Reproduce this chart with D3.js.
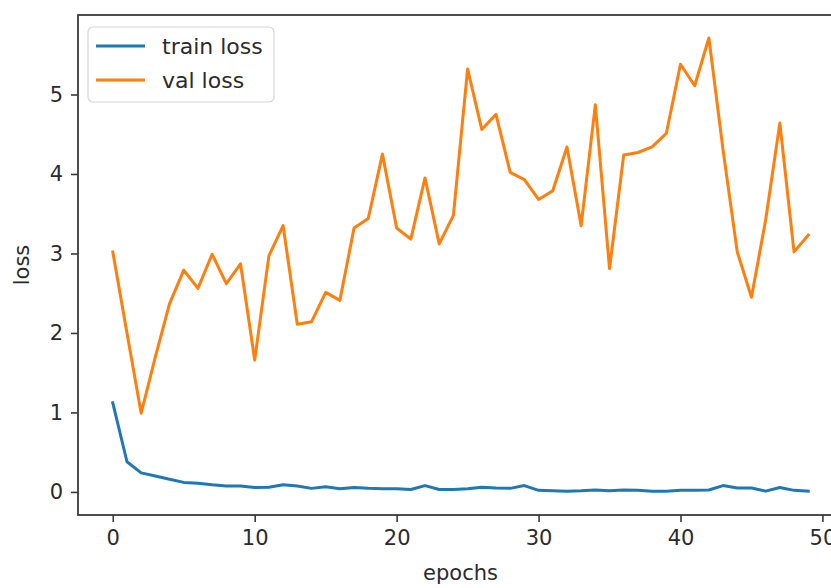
<!DOCTYPE html>
<html>
<head>
<meta charset="utf-8">
<script src="https://cdn.jsdelivr.net/npm/d3@7"></script>
<style>
  html, body { margin: 0; padding: 0; background: #fff; overflow: hidden; }
  svg { display: block; }
  text { font-family: "DejaVu Sans", sans-serif; fill: #2b2b2b; }
</style>
</head>
<body>
<svg id="chart" width="831" height="588"></svg>
<script>
// Loss per epoch
const epochs = d3.range(50);
const trainLoss = [
  1.12, 0.38, 0.24, 0.20, 0.16, 0.12, 0.11, 0.09, 0.075, 0.075,
  0.055, 0.06, 0.09, 0.075, 0.045, 0.065, 0.04, 0.055, 0.045, 0.04,
  0.04, 0.03, 0.08, 0.03, 0.03, 0.04, 0.06, 0.05, 0.045, 0.08,
  0.02, 0.015, 0.01, 0.015, 0.025, 0.015, 0.025, 0.02, 0.01, 0.01,
  0.02, 0.02, 0.025, 0.08, 0.05, 0.05, 0.01, 0.055, 0.02, 0.01
];
const valLoss = [
  3.02, 2.0, 0.99, 1.7, 2.37, 2.79, 2.56, 2.99, 2.62, 2.87,
  1.66, 2.97, 3.35, 2.11, 2.14, 2.51, 2.41, 3.32, 3.44, 4.25,
  3.32, 3.18, 3.95, 3.12, 3.48, 5.32, 4.56, 4.75, 4.02, 3.93,
  3.68, 3.79, 4.34, 3.35, 4.87, 2.81, 4.24, 4.27, 4.34, 4.51,
  5.38, 5.11, 5.71, 4.3, 3.02, 2.45, 3.42, 4.64, 3.02, 3.23
];
const xTicks = [0, 10, 20, 30, 40, 50];
const yTicks = [0, 1, 2, 3, 4, 5];
const seriesNames = ["train loss", "val loss"];
const seriesColors = ["#1f77b4", "#ff7f0e"];

const svg = d3.select("#chart");
const plot = { left: 78, top: 15, right: 843, bottom: 515 };

const x = d3.scaleLinear().domain([-2.45, 51.45]).range([plot.left, plot.right]);
const y = d3.scaleLinear().domain([-0.29, 6.0]).range([plot.bottom, plot.top]);

// Series lines
const line = d3.line().x((d, i) => x(epochs[i])).y(d => y(d));
[trainLoss, valLoss].forEach((s, k) => {
  svg.append("path")
    .datum(s)
    .attr("d", line)
    .attr("fill", "none")
    .attr("stroke", seriesColors[k])
    .attr("stroke-width", 3)
    .attr("stroke-linejoin", "round")
    .attr("stroke-linecap", "square");
});

// Frame
svg.append("rect")
  .attr("x", plot.left).attr("y", plot.top)
  .attr("width", plot.right - plot.left).attr("height", plot.bottom - plot.top)
  .attr("fill", "none").attr("stroke", "#3a3a3a").attr("stroke-width", 1.8);

// Axes
const xAxis = d3.axisBottom(x).tickValues(xTicks).tickSize(7).tickPadding(8).tickFormat(d3.format("d"));
const yAxis = d3.axisLeft(y).tickValues(yTicks).tickSize(7).tickPadding(8).tickFormat(d3.format("d"));

const gx = svg.append("g").attr("transform", `translate(0,${plot.bottom})`).call(xAxis);
const gy = svg.append("g").attr("transform", `translate(${plot.left},0)`).call(yAxis);
[gx, gy].forEach(g => {
  g.select(".domain").remove();
  g.selectAll(".tick line").attr("stroke", "#3a3a3a").attr("stroke-width", 1.6);
  g.selectAll(".tick text").attr("font-size", 21).attr("font-family", "DejaVu Sans").attr("fill", "#2b2b2b");
});

// Axis titles
svg.append("text")
  .attr("x", (plot.left + plot.right) / 2).attr("y", 580)
  .attr("text-anchor", "middle").attr("font-size", 21)
  .text("epochs");
svg.append("text")
  .attr("transform", `translate(29,${(plot.top + plot.bottom) / 2}) rotate(-90)`)
  .attr("text-anchor", "middle").attr("font-size", 21)
  .text("loss");

// Legend
const legend = svg.append("g").attr("transform", "translate(88,27)");
legend.append("rect")
  .attr("width", 186).attr("height", 75).attr("rx", 5)
  .attr("fill", "#fff").attr("fill-opacity", 0.8)
  .attr("stroke", "#d6d6d6").attr("stroke-width", 1.2);
seriesNames.forEach((name, i) => {
  const yy = 19 + i * 34;
  legend.append("line")
    .attr("x1", 8).attr("x2", 57).attr("y1", yy).attr("y2", yy)
    .attr("stroke", seriesColors[i]).attr("stroke-width", 3);
  legend.append("text")
    .attr("x", 74).attr("y", yy + 8).attr("font-size", 22)
    .text(name);
});
</script>
</body>
</html>
